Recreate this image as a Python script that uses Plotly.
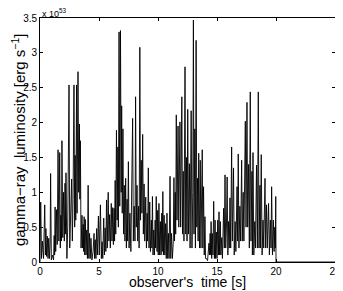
import plotly.graph_objects as go

# observer's time [s] and luminosity [10^53 erg/s] (peaks and troughs)
time_s = [
 0.00,0.06,0.13,0.20,0.30,0.40,0.46,0.50,0.56,0.62,0.68,0.74,0.80,0.86,0.90,0.96,1.05,1.15,1.20,1.24,
 1.28,1.33,1.40,1.46,1.53,1.60,1.67,1.72,1.77,1.82,1.86,1.93,2.00,2.06,2.12,2.17,2.20,2.28,2.35,2.46,
 2.52,2.60,2.68,2.74,2.80,2.88,2.94,2.98,3.03,3.10,3.14,3.22,3.28,3.34,3.38,3.42,3.48,3.56,3.60,3.66,
 3.70,3.74,3.79,3.84,3.90,3.96,4.02,4.08,4.14,4.20,4.26,4.32,4.40,4.50,4.58,4.63,4.68,4.74,4.80,4.86,
 4.95,5.02,
 5.12,5.20,5.26,5.32,5.40,5.46,5.52,5.58,5.64,5.70,5.78,5.84,5.90,5.96,6.04,6.10,6.16,6.22,6.28,6.32,
 6.37,6.42,6.48,6.54,6.60,6.64,6.70,6.76,6.82,6.88,6.92,6.97,7.03,7.08,7.14,7.20,7.26,7.32,7.38,7.43,
 7.49,7.55,7.62,7.70,7.78,7.85,7.91,7.98,8.05,8.10,8.16,8.22,8.28,8.36,8.40,8.46,8.52,8.58,8.64,8.70,
 8.76,8.82,8.88,8.96,9.02,9.08,9.12,9.18,9.24,9.30,9.36,9.44,9.48,9.53,9.58,9.64,9.70,9.76,9.80,9.85,
 9.92,9.97,10.02,
 10.08,10.14,10.20,10.26,10.32,10.36,10.41,10.46,10.52,10.58,10.64,10.70,10.76,10.82,10.88,10.94,11.02,11.08,11.14,11.22,
 11.30,11.35,11.40,11.46,11.50,11.55,11.61,11.70,11.76,11.86,11.92,12.02,12.08,12.14,12.20,12.29,12.35,12.42,12.46,12.52,
 12.58,12.66,12.72,12.81,12.88,12.95,13.00,13.05,13.12,13.17,13.23,13.29,13.35,13.40,13.45,13.52,13.58,13.64,13.75,13.80,
 13.86,13.92,13.98,14.03,14.10,14.20,14.28,14.32,14.36,14.42,14.46,14.50,14.55,14.60,14.66,14.72,14.78,14.84,14.88,14.94,
 15.00,
 15.06,15.12,15.17,15.22,15.28,15.33,15.40,15.46,15.56,15.62,15.68,15.74,15.80,15.86,15.92,15.98,16.04,16.10,16.16,16.24,
 16.30,16.40,16.46,16.54,16.60,16.70,16.75,16.80,16.86,16.94,17.00,17.09,17.14,17.22,17.28,17.40,17.46,17.54,17.60,17.68,
 17.74,17.82,17.88,17.96,18.00,18.05,18.12,18.20,18.26,18.35,18.42,18.50,18.56,18.64,18.68,18.75,18.82,18.90,18.96,19.07,
 19.12,19.20,19.26,19.37,19.44,19.52,19.58,19.63,19.70,19.78,19.84,19.90,19.94,19.98,20.00,25.00,
]
lum_1e53 = [
 0.00,0.86,0.05,0.30,0.05,0.82,0.10,0.48,0.08,0.37,0.05,0.34,0.05,0.27,1.27,0.03,0.10,0.03,0.38,0.10,
 0.79,0.15,0.75,0.25,1.61,0.30,1.57,0.20,0.67,0.30,1.74,0.35,1.00,0.30,1.13,0.40,1.28,0.05,0.50,2.54,
 0.20,0.60,1.19,0.30,0.90,2.54,0.50,1.53,0.60,2.54,0.70,2.73,1.00,1.98,0.90,1.74,0.20,0.67,0.20,0.54,
 0.15,0.65,0.10,0.61,0.10,0.46,0.05,1.10,0.05,0.41,0.05,0.34,0.03,0.15,0.41,0.05,0.32,0.05,0.48,0.10,
 0.66,0.10,
 0.82,0.05,0.29,0.05,0.63,0.10,0.49,0.15,0.89,0.20,1.00,0.30,0.68,0.20,0.84,0.30,0.78,0.25,0.77,0.30,
 1.17,0.40,1.89,0.60,1.65,0.50,3.30,0.80,3.32,1.00,2.24,0.70,1.91,0.40,1.10,0.30,1.20,0.20,0.90,0.30,
 1.44,0.20,0.70,0.15,0.90,2.06,0.30,0.80,0.30,2.37,0.50,1.10,0.30,0.80,0.20,3.08,0.60,1.46,0.70,1.83,
 0.40,1.12,0.30,0.93,0.20,0.70,0.30,1.35,0.20,0.86,0.15,0.60,0.20,0.94,0.10,0.46,0.10,0.60,0.20,0.94,
 0.15,0.74,0.10,
 0.84,0.10,0.58,0.10,0.70,0.15,1.01,0.10,0.67,0.10,0.55,0.05,0.70,0.05,0.41,0.05,1.23,0.05,0.41,0.05,
 0.30,1.21,0.30,1.00,0.40,2.11,0.60,1.95,0.50,2.01,0.50,2.37,0.40,1.30,0.30,2.80,0.40,1.50,0.30,2.19,
 0.40,1.41,0.20,2.17,0.20,1.00,3.47,0.40,1.91,0.20,3.18,0.50,1.20,0.30,1.56,0.20,1.46,0.20,1.61,0.20,
 1.08,0.10,0.65,0.05,0.05,0.02,0.15,0.27,0.10,0.41,0.10,0.58,0.05,0.41,0.10,0.87,0.05,0.60,0.05,0.43,
 0.05,
 0.60,0.10,0.72,0.10,0.58,0.10,0.35,0.05,0.77,0.20,1.25,0.20,0.50,1.22,0.10,0.58,0.20,0.92,0.20,1.65,
 0.30,1.35,0.10,0.58,0.15,1.08,0.30,1.55,0.20,0.80,0.30,1.46,0.30,1.00,0.30,2.02,0.50,2.29,0.50,1.40,
 0.20,2.44,0.30,1.30,0.10,1.57,0.10,0.58,0.20,1.39,0.20,2.44,0.20,1.10,0.20,1.54,0.10,0.60,0.20,1.20,
 0.20,0.82,0.20,0.84,0.10,0.60,0.20,1.08,0.10,0.60,0.15,0.50,0.20,0.94,0.00,0.00,
]

x_ticks = [0, 5, 10, 15, 20, 25]
y_ticks = [0, 0.5, 1, 1.5, 2, 2.5, 3, 3.5]
y_tick_text = ["0", "0.5", "1", "1.5", "2", "2.5", "3", "3.5"]

fig = go.Figure()
fig.add_trace(go.Scatter(x=time_s, y=lum_1e53, mode="lines",
                         line=dict(color="black", width=0.9), hoverinfo="skip"))

font = "Liberation Sans, Arial, Helvetica, sans-serif"
axis_common = dict(showgrid=False, zeroline=False, showline=True, linecolor="black",
                   linewidth=0.8, mirror="ticks", ticks="inside", ticklen=3,
                   tickcolor="black", tickwidth=0.8, automargin=False,
                   tickfont=dict(family=font, size=10, color="black"))
fig.update_layout(
    width=343, height=291,
    margin=dict(l=32, r=16, t=10, b=37),
    paper_bgcolor="white", plot_bgcolor="white",
    showlegend=False,
    xaxis=dict(range=[0, 25], tickvals=x_ticks, **axis_common),
    yaxis=dict(range=[0, 3.5], tickvals=y_ticks, ticktext=y_tick_text, **axis_common),
    annotations=[
        dict(text="x 10<sup>53</sup>", xref="paper", yref="paper", x=0.0, y=1.0,
             xanchor="left", yanchor="bottom", showarrow=False, xshift=0, yshift=-3,
             font=dict(family=font, size=9, color="black")),
        dict(text="observer's  time [s]", xref="paper", yref="paper", x=0.5, y=0,
             xanchor="center", yanchor="middle", showarrow=False, yshift=-20,
             font=dict(family=font, size=14, color="black")),
        dict(text="gamma\u2212ray  luminosity [erg s<sup>\u22121</sup>]", xref="paper", yref="paper",
             x=0, y=0.5, xanchor="center", yanchor="middle", showarrow=False, textangle=-90,
             xshift=-22, font=dict(family=font, size=15, color="black")),
    ],
)
fig.write_html("out.html")
